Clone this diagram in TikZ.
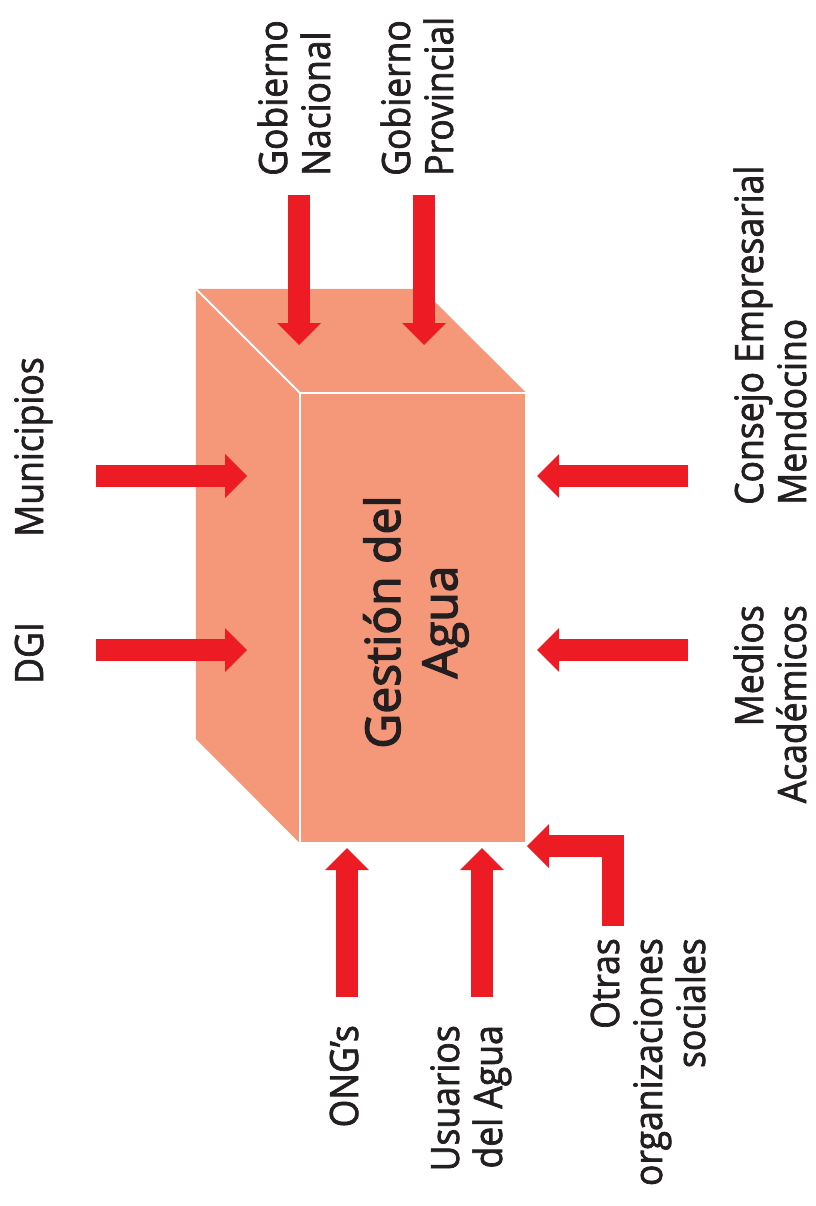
\documentclass[tikz,border=0pt]{standalone}
\usepackage{fontspec}
\setmainfont{Open Sans}[FakeStretch=0.91, FakeBold=1.8]
\newfontfamily\titulofont{Open Sans}[FakeBold=2.8]
\usetikzlibrary{arrows.meta}
\usetikzlibrary{positioning}
\definecolor{salmon}{HTML}{F5987A}
\definecolor{rojo}{HTML}{ED1C24}
\definecolor{tinta}{HTML}{231F20}
\tikzset{flecha/.style = {draw=rojo, line width=22pt,
                          -{Triangle[width=44pt,length=22pt,line width=0pt]}}}
\tikzset{actor/.style = {rotate=90, inner sep=0pt, text=tinta,
                         font=\fontsize{39}{43}\selectfont}}

\begin{document}
\begin{tikzpicture}[x=1pt, y=-1pt]
    \useasboundingbox (0, 0) rectangle (815, 1206);
    % caja
    \node [minimum width=226pt, minimum height=450pt, inner sep=0pt] (frente) at (413, 618) {};
    \fill [salmon] (frente.north west) -- ++(-104, -104) -- ++(226, 0)
                   -- (frente.north east) -- cycle;
    \fill [salmon] (frente.north west) -- ++(-104, -104) -- ++(0, 450)
                   -- (frente.south west) -- cycle;
    \draw [white, line width=2pt, fill=salmon] (frente.south west) rectangle (frente.north east);
    \draw [white, line width=2pt] (frente.north west) -- ++(-104, -104);
    \node [rotate=90, align=center, anchor=base, text=tinta,
           font=\titulofont\fontsize{48}{57}\selectfont] (titulo) at (457, 622) {Gestión del\\Agua};
    % actores
    \node [actor, anchor=base] (dgi) at (43, 653) {DGI};
    \node [actor, anchor=base] (municipios) at (43, 447) {Municipios};
    \node [actor, anchor=base west, align=left] (nacional) at (330, 176) {Gobierno\\Nacional};
    \node [actor, anchor=base west, align=left] (provincial) at (453, 176) {Gobierno\\Provincial};
    \node [actor, anchor=base west, align=left] (consejo) at (806, 505) {Consejo Empresarial\\Mendocino};
    \node [actor, anchor=base east, align=right] (medios) at (806, 605) {Medios\\Académicos};
    \node [actor, anchor=base east] (ongs) at (358, 1025) {ONG’s};
    \node [actor, anchor=base east, align=right] (usuarios) at (502, 1025) {Usuarios\\del Agua};
    \node [actor, anchor=base east, align=right] (otras) at (705, 938) {Otras\\organizaciones\\sociales};
    % extremos de las flechas
    \coordinate (dgi-a) at (96, 650);
    \coordinate (dgi-b) at (247, 650);
    \coordinate (mun-a) at (96, 476);
    \coordinate (mun-b) at (247, 476);
    \coordinate (nac-a) at (299, 195);
    \coordinate (nac-b) at (299, 345);
    \coordinate (pro-a) at (424, 195);
    \coordinate (pro-b) at (424, 345);
    \coordinate (con-a) at (688, 476);
    \coordinate (con-b) at (537, 476);
    \coordinate (med-a) at (688, 650);
    \coordinate (med-b) at (537, 650);
    \coordinate (ong-a) at (347, 997);
    \coordinate (ong-b) at (347, 848);
    \coordinate (usu-a) at (482, 997);
    \coordinate (usu-b) at (482, 848);
    \coordinate (otr-a) at (613, 926);
    \coordinate (otr-b) at (527, 846);
    % flechas
    \draw [flecha] (dgi-a) -- (dgi-b);
    \draw [flecha] (mun-a) -- (mun-b);
    \draw [flecha] (nac-a) -- (nac-b);
    \draw [flecha] (pro-a) -- (pro-b);
    \draw [flecha] (con-a) -- (con-b);
    \draw [flecha] (med-a) -- (med-b);
    \draw [flecha] (ong-a) -- (ong-b);
    \draw [flecha] (usu-a) -- (usu-b);
    \draw [flecha] (otr-a) |- (otr-b);
\end{tikzpicture}
\end{document}
